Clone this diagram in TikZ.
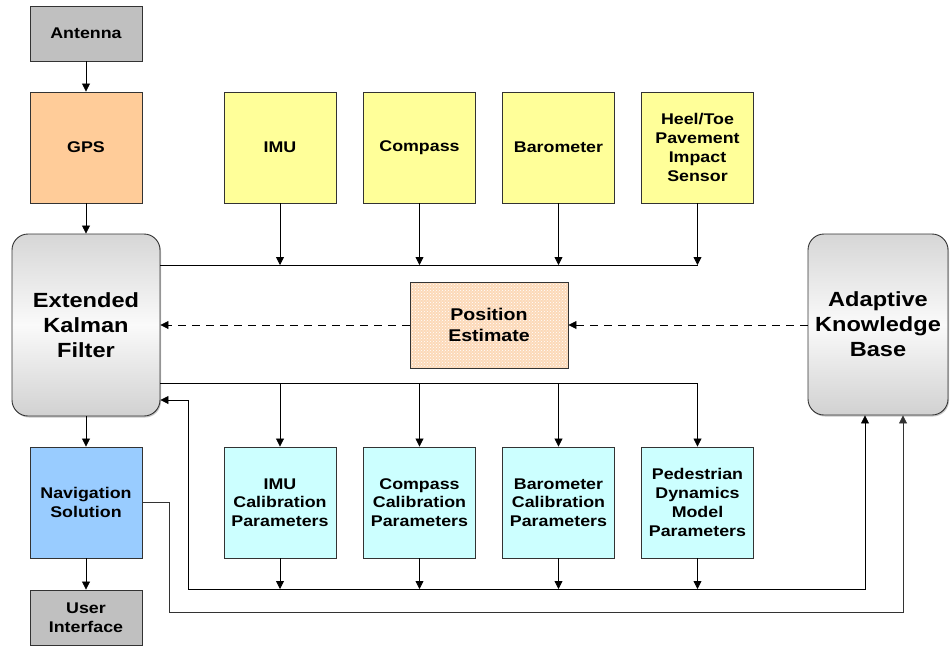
\documentclass[tikz,border=0pt]{standalone}
\usepackage{fontspec}
\setmainfont{Liberation Sans}[FakeStretch=1.15]
\usetikzlibrary{arrows.meta,patterns,shadows}
\definecolor{antgray}{HTML}{C0C0C0}
\definecolor{gpsor}{HTML}{FFCC99}
\definecolor{sensyel}{HTML}{FFFF99}
\definecolor{navblue}{HTML}{99CCFF}
\definecolor{calcyan}{HTML}{CCFFFF}
\definecolor{peach}{HTML}{FCD9B8}
\definecolor{edge}{HTML}{333333}
\begin{document}
\begin{tikzpicture}[x=1pt,y=-1pt,
  >={Triangle[length=8pt,width=8pt]},
  box/.style={draw=edge,line width=0.9pt,inner sep=0pt,align=center,
    minimum width=112pt,minimum height=111pt,
    font=\bfseries\fontsize{15.5}{18.7}\selectfont},
  shortbox/.style={box,minimum height=55pt},
  bigbox/.style={draw=edge,line width=0.9pt,inner sep=0pt,align=center,rounded corners=16pt,
    top color=black!16,bottom color=black!18,middle color=black!2,
    drop shadow={shadow xshift=1pt,shadow yshift=-1.5pt,opacity=0.45},
    font=\bfseries\fontsize{20.5}{25}\selectfont},
  arr/.style={->,line width=0.8pt,draw=black},
  ln/.style={line width=0.8pt,draw=black},
  dsh/.style={arr,dash pattern=on 8pt off 6pt}]
\useasboundingbox (0,0) rectangle (951,646);

% left column
\node[shortbox,fill=antgray] (ant) at (86,33.5) {Antenna};
\node[box,fill=gpsor] (gps) at (86,147.5) {GPS};
\node[bigbox,minimum width=148pt,minimum height=182pt] (ekf) at (86,325) {Extended\\Kalman\\Filter};
\node[box,fill=navblue] (nav) at (86,502.5) {Navigation\\Solution};
\node[shortbox,fill=antgray] (ui) at (86,617.5) {User\\Interface};

% sensors
\node[box,fill=sensyel] (imu) at (280,147.5) {IMU};
\node[box,fill=sensyel] (comp) at (419.5,147.5) {Compass};
\node[box,fill=sensyel] (baro) at (558.5,147.5) {Barometer};
\node[box,fill=sensyel] (heel) at (697.5,147.5) {Heel/Toe\\Pavement\\Impact\\Sensor};

% calibration
\node[box,fill=calcyan] (cimu) at (280,502.5) {IMU\\Calibration\\Parameters};
\node[box,fill=calcyan] (ccomp) at (419.5,502.5) {Compass\\Calibration\\Parameters};
\node[box,fill=calcyan] (cbaro) at (558.5,502.5) {Barometer\\Calibration\\Parameters};
\node[box,fill=calcyan] (cped) at (697.5,502.5) {Pedestrian\\Dynamics\\Model\\Parameters};

% position estimate
\node[draw=edge,line width=0.9pt,inner sep=0pt,align=center,
  minimum width=158pt,minimum height=86pt,
  preaction={fill=peach},pattern=crosshatch dots,pattern color=white,
  font=\bfseries\fontsize{17}{21}\selectfont] (pos) at (489,325) {Position\\Estimate};

% adaptive knowledge base
\node[bigbox,minimum width=140pt,minimum height=181pt] (akb) at (878,324.5) {Adaptive\\Knowledge\\Base};

% coordinates
\coordinate (busT) at (0,265);
\coordinate (busM) at (0,383.5);
\coordinate (fbE) at (0,400);
\coordinate (busB) at (188,589);
\coordinate (akbA) at (865,0);
\coordinate (navV) at (169,612);
\coordinate (akbB) at (903,0);

% left column arrows
\draw[arr] (ant.south) -- (gps.north);
\draw[arr] (gps.south) -- (ekf.north);
\draw[arr] (ekf.south) -- (nav.north);
\draw[arr] (nav.south) -- (ui.north);

% top bus
\draw[ln] (ekf.east |- busT) -- (heel.south |- busT);
\foreach \n in {imu,comp,baro,heel}
  \draw[arr] (\n.south) -- (\n.south |- busT);

% middle bus
\draw[ln] (ekf.east |- busM) -- (cped.north |- busM);
\foreach \n in {cimu,ccomp,cbaro,cped}
  \draw[arr] (\n.north |- busM) -- (\n.north);

% bottom bus to EKF and AKB
\draw[ln,<->]
  (ekf.east |- fbE) -| (busB) -| (akbA |- akb.south);
\foreach \n in {cimu,ccomp,cbaro,cped}
  \draw[arr] (\n.south) -- (\n.south |- busB);

% navigation solution to AKB
\draw[arr,draw=black!80] (nav.east) -| (navV) -| (akbB |- akb.south);

% dashed
\draw[dsh] (pos.west) -- (ekf.east |- pos.west);
\draw[dsh] (akb.west |- pos.east) -- (pos.east);
\end{tikzpicture}
\end{document}
